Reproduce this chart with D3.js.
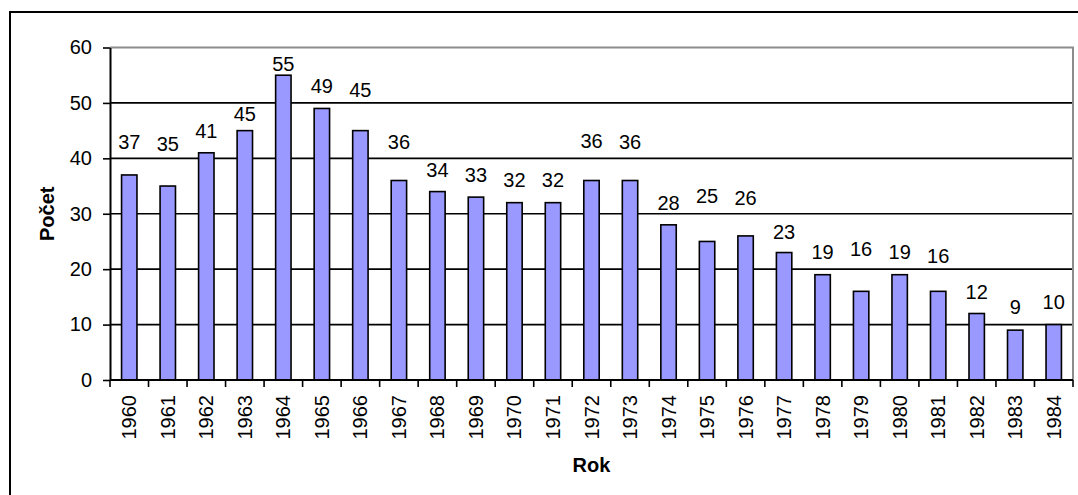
<!DOCTYPE html>
<html>
<head>
<meta charset="utf-8">
<script src="https://cdn.jsdelivr.net/npm/d3@7"></script>
<style>
  html, body { margin: 0; padding: 0; background: #fff; }
  svg { display: block; }
  text { font-family: "Liberation Sans", Arial, sans-serif; fill: #000; }
</style>
</head>
<body>
<svg id="chart" width="1078" height="495"></svg>
<script>
// Počet podle roku
const years = ["1960","1961","1962","1963","1964","1965","1966","1967","1968","1969",
               "1970","1971","1972","1973","1974","1975","1976","1977","1978","1979",
               "1980","1981","1982","1983","1984"];
const counts = [37, 35, 41, 45, 55, 49, 45, 36, 34, 33,
                32, 32, 36, 36, 28, 25, 26, 23, 19, 16,
                19, 16, 12, 9, 10];
const yTicks = [0, 10, 20, 30, 40, 50, 60];
const xTitle = "Rok";
const yTitle = "Počet";

// Hand-placed value labels: distance (px) of each label's centre above its bar
const labelLift = [33, 42.5, 22, 16.5, 11.5, 22, 41, 38.5, 21.5, 22,
                   22.5, 22.5, 40, 38.5, 21.5, 45, 37.5, 20.5, 23, 42,
                   23, 35, 22, 23, 23];

const svg = d3.select("#chart");
const plot = { left: 110, right: 1073, top: 47.5, bottom: 380 };
const FONT = 20;

// Outer chart frame (runs past the right and bottom edges)
svg.append("rect")
  .attr("x", 10).attr("y", 12)
  .attr("width", 1200).attr("height", 600)
  .attr("fill", "none").attr("stroke", "#000").attr("stroke-width", 2);

const x = d3.scaleBand().domain(years).range([plot.left, plot.right]).padding(0);
const y = d3.scaleLinear().domain([0, 60]).range([plot.bottom, plot.top]);

// Horizontal gridlines
svg.append("g").selectAll("line")
  .data(yTicks.filter(t => t > 0 && t < 60))
  .join("line")
  .attr("x1", plot.left).attr("x2", plot.right)
  .attr("y1", d => y(d)).attr("y2", d => y(d))
  .attr("stroke", "#000").attr("stroke-width", 1.6);

// Plot area border (grey, top and right)
svg.append("path")
  .attr("d", `M${plot.left},${y(60)}H${plot.right}V${plot.bottom}`)
  .attr("fill", "none").attr("stroke", "#8c8c8c").attr("stroke-width", 2);

// Bars
const barW = x.bandwidth() / 2.5;
svg.append("g").selectAll("rect")
  .data(counts)
  .join("rect")
  .attr("x", (d, i) => x(years[i]) + (x.bandwidth() - barW) / 2)
  .attr("y", d => y(d))
  .attr("width", barW)
  .attr("height", d => y(0) - y(d))
  .attr("fill", "#9999ff")
  .attr("stroke", "#000")
  .attr("stroke-width", 1.6);

// Value labels
svg.append("g").selectAll("text")
  .data(counts)
  .join("text")
  .attr("x", (d, i) => x(years[i]) + x.bandwidth() / 2)
  .attr("y", (d, i) => y(d) - labelLift[i])
  .attr("dy", "0.35em")
  .attr("text-anchor", "middle")
  .attr("font-size", FONT)
  .text(d => d);

// Y axis
const yAxis = svg.append("g")
  .attr("transform", `translate(${plot.left},0)`)
  .call(d3.axisLeft(y).tickValues(yTicks).tickSize(7).tickSizeOuter(0).tickPadding(11));
yAxis.select(".domain").attr("stroke", "#000").attr("stroke-width", 2);
yAxis.selectAll(".tick line").attr("stroke", "#000").attr("stroke-width", 1.6);
yAxis.selectAll(".tick text")
  .attr("font-size", FONT)
  .attr("font-family", "'Liberation Sans', Arial, sans-serif")
  .attr("fill", "#000");

// X axis: ticks on category boundaries, rotated year labels
const xAxisG = svg.append("g");
xAxisG.append("line")
  .attr("x1", plot.left).attr("x2", plot.right)
  .attr("y1", plot.bottom).attr("y2", plot.bottom)
  .attr("stroke", "#000").attr("stroke-width", 2);
const bounds = years.map(yr => x(yr)).concat([x.range()[1]]);
xAxisG.selectAll("line.tk")
  .data(bounds)
  .join("line")
  .attr("class", "tk")
  .attr("x1", d => d).attr("x2", d => d)
  .attr("y1", plot.bottom).attr("y2", plot.bottom + 7)
  .attr("stroke", "#000").attr("stroke-width", 1.6);
xAxisG.selectAll("text")
  .data(years)
  .join("text")
  .attr("transform", d => `translate(${x(d) + x.bandwidth() / 2},${plot.bottom + 15}) rotate(-90)`)
  .attr("dy", "0.35em")
  .attr("text-anchor", "end")
  .attr("font-size", FONT)
  .text(d => d);

// Axis titles
svg.append("text")
  .attr("x", (plot.left + plot.right) / 2)
  .attr("y", 472)
  .attr("text-anchor", "middle")
  .attr("font-size", FONT)
  .attr("font-weight", "bold")
  .text(xTitle);

svg.append("text")
  .attr("transform", `translate(47,${(plot.top + plot.bottom) / 2}) rotate(-90)`)
  .attr("dy", "0.35em")
  .attr("text-anchor", "middle")
  .attr("font-size", FONT)
  .attr("font-weight", "bold")
  .text(yTitle);
</script>
</body>
</html>
